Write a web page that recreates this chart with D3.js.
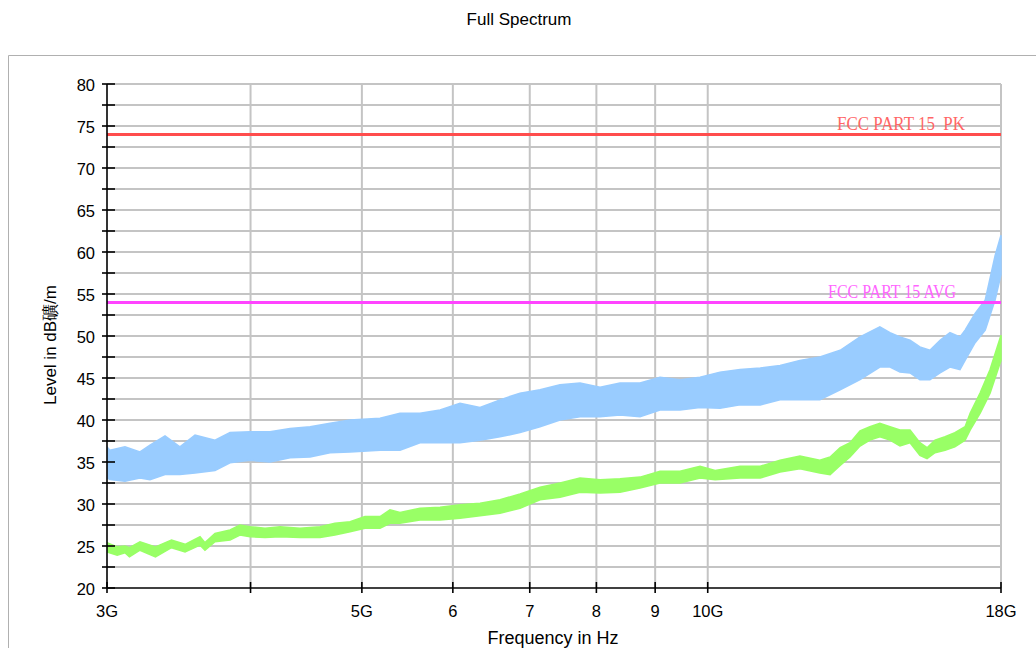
<!DOCTYPE html>
<html><head><meta charset="utf-8">
<script src="https://cdn.jsdelivr.net/npm/d3@7"></script>
<style>
body{margin:0;background:#fff;}
svg text{font-family:"Liberation Sans",Arial,sans-serif;}
</style></head>
<body><svg id="c" width="1036" height="648"></svg>
<script>
// ---- data (frequency in GHz, level in dBµV/m) ----
const blueFreq = [3.000,3.018,3.110,3.205,3.270,3.370,3.472,3.579,3.725,3.839,3.996,4.159,4.330,4.507,4.691,4.883,5.185,5.397,5.618,5.848,6.087,6.336,6.595,6.865,7.146,7.438,7.742,8.059,8.388,8.731,9.088,9.460,9.847,10.25,10.67,11.11,11.56,12.03,12.52,13.04,13.57,14.12,14.41,14.70,15.00,15.30,15.61,15.93,16.25,16.58,16.75,17.09,17.44,17.79,18.00];
const blueMax  = [36.8,36.4,36.8,36.2,37.0,38.1,36.8,38.2,37.6,38.5,38.6,38.6,39.0,39.2,39.6,40.0,40.2,40.8,40.8,41.2,42.0,41.5,42.4,43.2,43.6,44.2,44.4,43.9,44.4,44.4,45.1,44.8,45.1,45.7,46.0,46.2,46.5,47.1,47.5,48.3,49.9,51.1,50.4,49.9,49.5,48.7,48.3,49.5,50.4,49.9,50.7,52.7,54.3,59.6,62.0];
const blueMin  = [33.1,32.9,32.7,33.1,32.9,33.5,33.5,33.7,34.0,34.9,35.2,35.0,35.5,35.6,36.1,36.2,36.4,36.4,37.3,37.3,37.3,37.6,38.0,38.5,39.2,40.0,40.4,40.4,40.6,40.4,41.2,41.2,41.5,41.4,41.8,41.8,42.4,42.4,42.4,43.6,44.8,46.3,46.3,45.7,45.6,44.8,44.8,45.6,46.3,46.0,47.1,49.2,50.7,54.3,57.3];

const greenFreq = [3.000,3.062,3.110,3.138,3.205,3.306,3.414,3.508,3.615,3.651,3.725,3.839,3.916,3.996,4.118,4.244,4.417,4.598,4.737,4.883,5.031,5.185,5.290,5.397,5.618,5.848,6.087,6.336,6.595,6.865,7.146,7.438,7.742,8.059,8.388,8.731,9.088,9.460,9.847,10.15,10.67,11.11,11.56,12.03,12.52,12.78,13.04,13.30,13.57,13.84,14.12,14.41,14.70,15.00,15.30,15.52,15.77,16.09,16.41,16.75,16.92,17.26,17.61,18.00];
const greenMax  = [25.4,24.9,25.0,24.8,25.5,24.9,25.7,25.2,26.1,25.4,26.5,26.9,27.5,27.3,27.1,27.3,27.1,27.3,27.7,27.9,28.5,28.5,29.3,29.0,29.5,29.6,29.9,30.1,30.5,31.2,32.0,32.5,33.1,32.9,33.0,33.2,33.9,33.9,34.5,34.0,34.5,34.5,35.2,35.7,35.2,35.6,36.7,37.3,38.7,39.2,39.6,39.2,38.8,38.8,37.3,36.7,37.6,38.0,38.5,39.2,40.8,43.2,46.0,50.1];
const greenMin  = [24.3,23.9,24.2,23.7,24.5,23.7,24.8,24.3,25.1,24.5,25.5,25.7,26.3,26.1,26.0,26.1,26.0,26.0,26.3,26.7,27.1,27.1,27.7,27.7,28.1,28.1,28.3,28.6,28.9,29.5,30.5,30.8,31.4,31.3,31.4,31.9,32.5,32.5,33.1,32.9,33.1,33.1,33.8,34.2,33.7,33.5,34.6,35.6,36.9,37.6,38.0,37.6,36.9,37.3,35.8,35.4,36.1,36.4,36.8,37.6,38.8,40.8,43.2,47.1];

const limitNames  = ["FCC PART 15  PK","FCC PART 15 AVG"];
const limitValues = [74, 54];

const xTickValues = [3,4,5,6,7,8,9,10,18];
const xTickLabels = ["3G","","5G","6","7","8","9","10G","18G"];
const xGridValues = [4,5,6,7,8,9,10,18];
const yTickValues = [20,25,30,35,40,45,50,55,60,65,70,75,80];
const yMinorValues = [22.5,27.5,32.5,37.5,42.5,47.5,52.5,57.5,62.5,67.5,72.5,77.5];

// ---- layout ----
const svg = d3.select("#c");
const L=107, R=1001, T=84, B=588;
const x = d3.scaleLog().domain([3,18]).range([L,R]);
const y = d3.scaleLinear().domain([20,80]).range([B,T]);

// outer frame
svg.append("line").attr("x1",8.5).attr("x2",8.5).attr("y1",55.5).attr("y2",648).attr("stroke","#b0b0b0").attr("stroke-width",1);
svg.append("line").attr("x1",8.5).attr("x2",1036).attr("y1",55.5).attr("y2",55.5).attr("stroke","#b0b0b0").attr("stroke-width",1);

// title
svg.append("text").attr("x",519).attr("y",25).attr("text-anchor","middle").attr("font-size",17).attr("fill","#000").text("Full Spectrum");

// grid
const grid = svg.append("g").attr("stroke","#c4c4c4").attr("stroke-width",2);
yTickValues.concat(yMinorValues).filter(v=>v>20).forEach(v=>{
  grid.append("line").attr("x1",L).attr("x2",R).attr("y1",y(v)).attr("y2",y(v));
});
xGridValues.forEach(v=>{
  grid.append("line").attr("x1",x(v)).attr("x2",x(v)).attr("y1",T).attr("y2",B);
});

// series bands
svg.append("clipPath").attr("id","pc").append("rect").attr("x",L).attr("y",T).attr("width",R-L+1).attr("height",B-T);
function band(freq, mx, mn, color){
  const pts = freq.map((f,i)=>({f, hi:mx[i], lo:mn[i]}));
  const area = d3.area().x(d=>x(d.f)).y0(d=>y(d.lo)).y1(d=>y(d.hi)).curve(d3.curveLinear);
  svg.append("path").datum(pts).attr("d",area).attr("fill",color).attr("stroke",color).attr("stroke-width",1.5).attr("clip-path","url(#pc)");
}
band(blueFreq, blueMax, blueMin, "#99ccff");
band(greenFreq, greenMax, greenMin, "#99ff66");

// limit lines
const limColors = ["#ff4d4d","#ff44ff"];
const labColors = ["#ff6666","#ff66ff"];
const labLeft = [837,828];
limitValues.forEach((v,i)=>{
  svg.append("line").attr("x1",L).attr("x2",R).attr("y1",y(v)).attr("y2",y(v)).attr("stroke",limColors[i]).attr("stroke-width",3);
  svg.append("text").attr("x",labLeft[i]).attr("y",y(v)-4).attr("text-anchor","start")
    .attr("xml:space","preserve").style("white-space","pre")
    .style("font-family",'"Liberation Serif","DejaVu Serif",serif')
    .attr("textLength",128).attr("lengthAdjust","spacingAndGlyphs")
    .attr("font-size",18).attr("fill",labColors[i]).text(limitNames[i]);
});

// axes
const ax = svg.append("g").attr("stroke","#000").attr("stroke-width",1.6);
ax.append("line").attr("x1",L).attr("x2",L).attr("y1",T).attr("y2",B);
ax.append("line").attr("x1",L).attr("x2",R).attr("y1",B).attr("y2",B);
yTickValues.concat(yMinorValues).forEach(v=>{
  ax.append("line").attr("x1",L-5).attr("x2",L+8).attr("y1",y(v)).attr("y2",y(v));
});
xTickValues.forEach(v=>{
  ax.append("line").attr("x1",x(v)).attr("x2",x(v)).attr("y1",B-6).attr("y2",B+5);
});

// tick labels
yTickValues.forEach(v=>{
  svg.append("text").attr("x",95).attr("y",y(v)+6.5).attr("text-anchor","end").attr("font-size",16.5).attr("fill","#000").text(v);
});
xTickValues.forEach((v,i)=>{
  svg.append("text").attr("x",x(v)).attr("y",617).attr("text-anchor","middle").attr("font-size",16.5).attr("fill","#000").text(xTickLabels[i]);
});

// axis titles
svg.append("text").attr("x",553).attr("y",644).attr("text-anchor","middle").attr("font-size",18).attr("fill","#000").text("Frequency in Hz");
svg.append("text").attr("transform","translate(56,345) rotate(-90)").attr("text-anchor","middle").attr("font-size",17).attr("fill","#000").text("Level in dB礦/m");
</script></body></html>
